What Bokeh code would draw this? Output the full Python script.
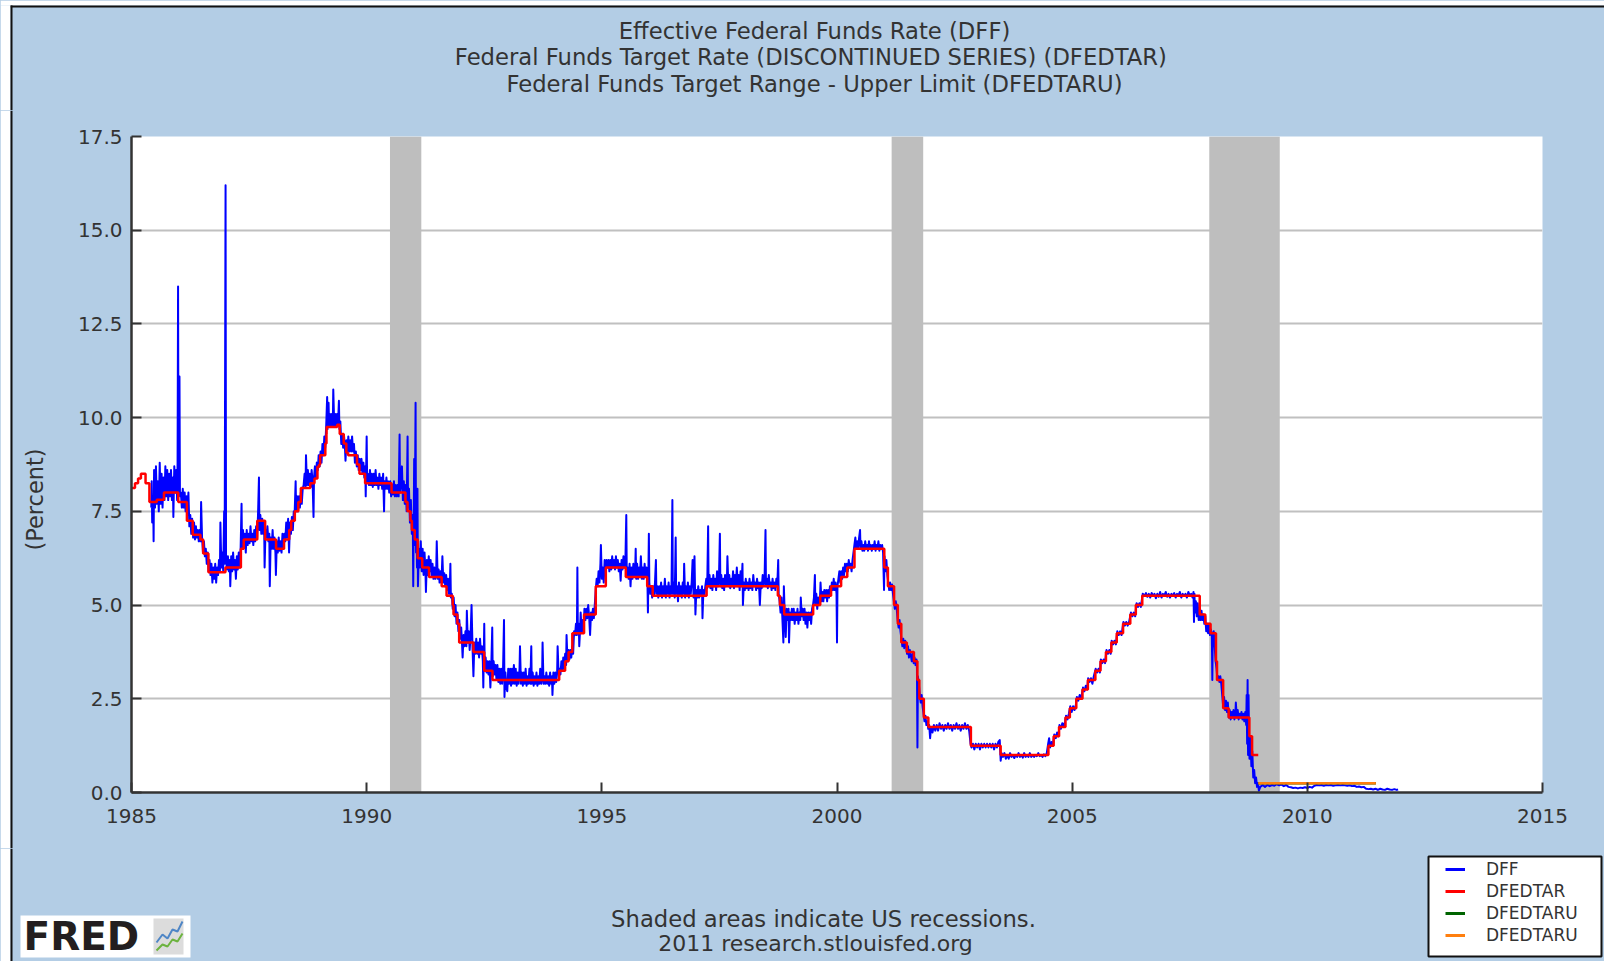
import datetime
import math
from bokeh.plotting import figure
from bokeh.layouts import column, row
from bokeh.models import (Range1d, FixedTicker, PrintfTickFormatter, Label, Legend, LegendItem)
from bokeh.embed import file_html
from bokeh.resources import INLINE

# ---------------- data ----------------
title_lines = [
    "Effective Federal Funds Rate (DFF)",
    "Federal Funds Target Rate  (DISCONTINUED SERIES) (DFEDTAR)",
    "Federal Funds Target Range - Upper Limit (DFEDTARU)",
]
footer_lines = ["Shaded areas indicate US recessions.", "2011 research.stlouisfed.org"]
y_axis_label = "(Percent)"
series_names = ["DFF", "DFEDTAR", "DFEDTARU", "DFEDTARU"]
series_colors = ["#0000FF", "#FF0000", "#006400", "#FF7F0E"]

x_ticks = [1985, 1990, 1995, 2000, 2005, 2010, 2015]
y_ticks = [0.0, 2.5, 5.0, 7.5, 10.0, 12.5, 15.0, 17.5]

recession_start = ["1990-07-01", "2001-03-01", "2007-12-01"]
recession_end = ["1991-03-01", "2001-11-01", "2009-06-01"]

dfedtar_dates = [
    "1984-12-24", "1985-01-28", "1985-02-21", "1985-03-15", "1985-04-20", "1985-05-20", "1985-07-16", "1985-09-10", "1985-12-30",
    "1986-03-07", "1986-04-21", "1986-06-20", "1986-07-11", "1986-08-21", "1986-12-31",
    "1987-04-30", "1987-05-22", "1987-09-04", "1987-11-04",
    "1988-01-28", "1988-03-30", "1988-05-09", "1988-05-25", "1988-06-22", "1988-07-19", "1988-08-08", "1988-10-20", "1988-11-22", "1988-12-15", "1988-12-29",
    "1989-01-05", "1989-02-14", "1989-02-23", "1989-02-24", "1989-05-17", "1989-06-06", "1989-07-07", "1989-07-27", "1989-08-10", "1989-10-18", "1989-11-06", "1989-12-20",
    "1990-07-13", "1990-10-29", "1990-11-14", "1990-12-07", "1990-12-18",
    "1991-01-09", "1991-02-01", "1991-03-08", "1991-04-30", "1991-08-06", "1991-09-13", "1991-10-31", "1991-11-06", "1991-12-06", "1991-12-20",
    "1992-04-09", "1992-07-02", "1992-09-04",
    "1994-02-04", "1994-03-22", "1994-04-18", "1994-05-17", "1994-08-16", "1994-11-15",
    "1995-02-01", "1995-07-06", "1995-12-19",
    "1996-01-31", "1997-03-25",
    "1998-09-29", "1998-10-15", "1998-11-17",
    "1999-06-30", "1999-08-24", "1999-11-16",
    "2000-02-02", "2000-03-21", "2000-05-16",
    "2001-01-03", "2001-01-31", "2001-03-20", "2001-04-18", "2001-05-15", "2001-06-27", "2001-08-21", "2001-09-17", "2001-10-02", "2001-11-06", "2001-12-11",
    "2002-11-06", "2003-06-25",
    "2004-06-30", "2004-08-10", "2004-09-21", "2004-11-10", "2004-12-14",
    "2005-02-02", "2005-03-22", "2005-05-03", "2005-06-30", "2005-08-09", "2005-09-20", "2005-11-01", "2005-12-13",
    "2006-01-31", "2006-03-28", "2006-05-10", "2006-06-29",
    "2007-09-18", "2007-10-31", "2007-12-11",
    "2008-01-22", "2008-01-30", "2008-03-18", "2008-04-30", "2008-10-08", "2008-10-29", "2008-12-16",
]
dfedtar_values = [
    8.125, 8.25, 8.375, 8.5, 8.25, 7.75, 7.8125, 8.0, 7.75,
    7.25, 6.875, 6.75, 6.375, 5.875, 6.0,
    6.5, 6.75, 7.25, 6.75,
    6.5, 6.75, 7.0, 7.25, 7.5, 7.75, 8.125, 8.25, 8.375, 8.6875, 8.75,
    9.0, 9.3125, 9.5625, 9.75, 9.8125, 9.5625, 9.3125, 9.0625, 9.0, 8.75, 8.5, 8.25,
    8.0, 7.75, 7.5, 7.25, 7.0,
    6.75, 6.25, 6.0, 5.75, 5.5, 5.25, 5.0, 4.75, 4.5, 4.0,
    3.75, 3.25, 3.0,
    3.25, 3.5, 3.75, 4.25, 4.75, 5.5,
    6.0, 5.75, 5.5,
    5.25, 5.5,
    5.25, 5.0, 4.75,
    5.0, 5.25, 5.5,
    5.75, 6.0, 6.5,
    6.0, 5.5, 5.0, 4.5, 4.0, 3.75, 3.5, 3.0, 2.5, 2.0, 1.75,
    1.25, 1.0,
    1.25, 1.5, 1.75, 2.0, 2.25,
    2.5, 2.75, 3.0, 3.25, 3.5, 3.75, 4.0, 4.25,
    4.5, 4.75, 5.0, 5.25,
    4.75, 4.5, 4.25,
    3.5, 3.0, 2.25, 2.0, 1.5, 1.0, 1.0,
]

dfedtaru_dates = ["2008-12-16", "2011-06-17"]
dfedtaru_values = [0.25, 0.25]

# DFF (year, percent)
dff_1985_1986 = [
    (1985.42, 7.6), (1985.43, 8.3), (1985.44, 7.2), (1985.46, 7.9), (1985.47, 6.7), (1985.48, 8.6), (1985.50, 7.6),
    (1985.52, 8.7), (1985.54, 7.7), (1985.56, 8.3), (1985.58, 7.5), (1985.60, 8.8), (1985.62, 7.7), (1985.64, 8.5),
    (1985.66, 7.6), (1985.68, 8.4), (1985.70, 7.8), (1985.72, 8.7), (1985.74, 7.9), (1985.76, 8.6), (1985.78, 7.8),
    (1985.80, 8.5), (1985.82, 7.9), (1985.84, 8.6), (1985.86, 7.8), (1985.88, 8.4), (1985.89, 7.35), (1985.91, 8.7),
    (1985.93, 8.0), (1985.95, 8.6), (1985.97, 7.8), (1985.98, 8.8), (1985.99, 13.5), (1986.00, 8.0), (1986.02, 11.1),
    (1986.03, 7.9), (1986.05, 8.0), (1986.07, 7.6), (1986.09, 8.1), (1986.11, 7.6), (1986.13, 8.0), (1986.15, 7.5),
    (1986.17, 7.9), (1986.19, 7.4), (1986.21, 8.0), (1986.23, 7.1), (1986.25, 7.4), (1986.27, 6.9), (1986.29, 7.3),
    (1986.31, 6.8), (1986.33, 7.2), (1986.35, 6.75), (1986.37, 7.1), (1986.39, 6.8), (1986.41, 7.0), (1986.43, 6.7),
    (1986.45, 7.0), (1986.47, 6.7), (1986.48, 7.75), (1986.50, 6.8), (1986.52, 6.4), (1986.54, 6.7), (1986.56, 6.3),
    (1986.58, 6.5), (1986.60, 6.1), (1986.62, 6.4), (1986.64, 5.9), (1986.66, 6.2), (1986.68, 5.8), (1986.70, 6.1),
    (1986.72, 5.6), (1986.74, 6.0), (1986.76, 5.7), (1986.78, 6.1), (1986.80, 5.6), (1986.82, 6.0), (1986.84, 5.8),
    (1986.86, 6.2), (1986.88, 5.9), (1986.89, 7.2), (1986.91, 6.0), (1986.93, 6.4), (1986.95, 5.9), (1986.97, 7.5),
    (1986.98, 6.1), (1987.00, 16.2), (1987.01, 6.2),
]
dff_1987_1988 = [
    (1987.03, 5.95), (1987.05, 6.3), (1987.07, 5.9), (1987.09, 6.2), (1987.10, 5.5), (1987.12, 6.3), (1987.14, 5.9),
    (1987.16, 6.4), (1987.18, 5.95), (1987.20, 6.2), (1987.22, 5.7), (1987.24, 6.3), (1987.26, 5.95), (1987.28, 6.4),
    (1987.30, 6.0), (1987.32, 6.5), (1987.34, 7.7), (1987.35, 6.5), (1987.37, 7.0), (1987.39, 6.6), (1987.41, 6.9),
    (1987.43, 6.4), (1987.45, 7.0), (1987.47, 6.6), (1987.49, 6.9), (1987.51, 6.65), (1987.53, 7.1), (1987.55, 6.7),
    (1987.57, 6.9), (1987.59, 6.6), (1987.61, 7.0), (1987.63, 6.7), (1987.65, 7.1), (1987.67, 6.8), (1987.69, 7.4),
    (1987.71, 8.4), (1987.72, 7.0), (1987.74, 7.4), (1987.76, 6.9), (1987.78, 7.3), (1987.80, 6.9), (1987.82, 7.2),
    (1987.83, 6.0), (1987.85, 7.0), (1987.87, 6.8), (1987.89, 7.1), (1987.91, 6.7), (1987.93, 6.9), (1987.94, 5.5),
    (1987.96, 6.8), (1987.98, 6.5), (1988.00, 7.0), (1988.02, 6.5), (1988.04, 6.8), (1988.06, 6.4), (1988.07, 5.8),
    (1988.09, 6.7), (1988.11, 6.4), (1988.13, 6.8), (1988.15, 6.45), (1988.17, 6.7), (1988.19, 6.4), (1988.21, 6.9),
    (1988.23, 6.5), (1988.25, 6.9), (1988.27, 6.7), (1988.29, 7.2), (1988.31, 6.8), (1988.33, 7.3), (1988.35, 6.4),
    (1988.37, 7.2), (1988.39, 6.9), (1988.41, 7.35), (1988.43, 7.0), (1988.45, 7.5), (1988.47, 7.5), (1988.49, 8.3),
    (1988.50, 7.5), (1988.52, 7.9), (1988.54, 7.5), (1988.56, 7.9), (1988.58, 7.6), (1988.60, 8.0), (1988.62, 7.7),
    (1988.64, 8.1), (1988.66, 8.2), (1988.68, 8.5), (1988.70, 8.15), (1988.71, 9.0), (1988.73, 8.2), (1988.75, 8.6),
    (1988.77, 8.2), (1988.79, 8.5), (1988.81, 8.15), (1988.83, 8.6), (1988.85, 8.3), (1988.87, 7.35), (1988.88, 8.4),
    (1988.90, 8.7), (1988.92, 8.4), (1988.94, 8.8), (1988.96, 8.6), (1988.98, 9.0), (1989.00, 8.7), (1989.02, 9.1),
]
dff_1989_1990 = [
    (1989.04, 8.8), (1989.06, 9.3), (1989.08, 9.0), (1989.10, 9.5), (1989.12, 9.2), (1989.14, 9.8), (1989.16, 10.55),
    (1989.17, 9.7), (1989.19, 10.4), (1989.20, 9.8), (1989.22, 10.1), (1989.24, 9.75), (1989.26, 10.1), (1989.28, 9.8),
    (1989.29, 10.75), (1989.31, 9.8), (1989.33, 10.1), (1989.35, 9.75), (1989.37, 10.1), (1989.39, 9.8), (1989.41, 10.45),
    (1989.42, 9.7), (1989.44, 9.9), (1989.46, 9.3), (1989.48, 9.55), (1989.50, 9.2), (1989.52, 9.5), (1989.54, 9.15),
    (1989.55, 8.85), (1989.57, 9.4), (1989.59, 9.1), (1989.61, 9.5), (1989.63, 9.1), (1989.65, 9.4), (1989.67, 9.1),
    (1989.69, 9.5), (1989.71, 9.1), (1989.73, 9.3), (1989.75, 8.8), (1989.77, 9.1), (1989.79, 8.7), (1989.81, 9.0),
    (1989.83, 8.6), (1989.85, 8.9), (1989.87, 8.6), (1989.89, 8.9), (1989.91, 8.5), (1989.93, 8.8), (1989.95, 8.4),
    (1989.97, 8.7), (1989.98, 7.9), (1990.00, 9.5), (1990.01, 8.3), (1990.03, 8.5), (1990.05, 8.2), (1990.07, 8.6),
    (1990.09, 8.2), (1990.11, 8.5), (1990.13, 8.15), (1990.15, 8.5), (1990.17, 8.2), (1990.19, 8.6), (1990.21, 8.2),
    (1990.23, 8.4), (1990.25, 8.1), (1990.27, 8.5), (1990.29, 8.2), (1990.31, 8.4), (1990.33, 8.1), (1990.35, 8.5),
    (1990.37, 7.5), (1990.38, 8.3), (1990.40, 8.1), (1990.42, 8.4), (1990.44, 8.1), (1990.46, 8.3), (1990.48, 8.0),
    (1990.50, 8.3), (1990.52, 7.9), (1990.54, 8.2), (1990.56, 7.95), (1990.58, 8.3), (1990.60, 7.9), (1990.62, 8.2),
    (1990.64, 7.9), (1990.66, 8.2), (1990.68, 7.9), (1990.70, 9.55), (1990.71, 8.0), (1990.73, 8.2), (1990.75, 8.7),
    (1990.77, 7.8), (1990.79, 8.3), (1990.81, 7.7), (1990.83, 8.2), (1990.85, 7.5), (1990.87, 9.5), (1990.88, 7.6),
    (1990.90, 8.1), (1990.92, 7.2), (1990.94, 7.8), (1990.96, 6.9), (1990.98, 7.4), (1990.99, 5.5),
]
dff_1991_1992 = [
    (1991.01, 8.9), (1991.02, 6.6), (1991.04, 10.4), (1991.05, 6.4), (1991.06, 7.0), (1991.07, 6.0), (1991.08, 8.1),
    (1991.09, 5.5), (1991.11, 6.5), (1991.13, 6.0), (1991.15, 6.7), (1991.17, 5.9), (1991.19, 6.5), (1991.21, 5.8),
    (1991.23, 6.4), (1991.25, 5.9), (1991.26, 5.35), (1991.28, 6.2), (1991.30, 5.8), (1991.32, 6.3), (1991.34, 5.9),
    (1991.36, 6.2), (1991.38, 5.8), (1991.40, 6.1), (1991.42, 5.7), (1991.44, 6.0), (1991.46, 5.7), (1991.48, 6.0),
    (1991.49, 6.7), (1991.51, 5.7), (1991.53, 5.95), (1991.55, 5.6), (1991.57, 5.9), (1991.59, 5.6), (1991.61, 6.3),
    (1991.63, 5.6), (1991.65, 5.85), (1991.67, 5.5), (1991.69, 5.8), (1991.71, 5.4), (1991.73, 5.7), (1991.75, 5.3),
    (1991.77, 5.6), (1991.78, 6.1), (1991.79, 5.2), (1991.81, 5.3), (1991.83, 4.9), (1991.85, 5.2), (1991.87, 4.7),
    (1991.89, 5.0), (1991.91, 4.5), (1991.93, 4.8), (1991.95, 4.3), (1991.97, 4.6), (1991.99, 4.1), (1992.01, 4.4),
    (1992.03, 3.9), (1992.04, 3.6), (1992.06, 4.2), (1992.08, 3.9), (1992.10, 4.3), (1992.12, 3.9), (1992.13, 4.85),
    (1992.15, 4.0), (1992.17, 4.3), (1992.19, 3.8), (1992.21, 4.2), (1992.23, 5.0), (1992.25, 3.9), (1992.27, 3.1),
    (1992.29, 4.0), (1992.31, 3.7), (1992.33, 4.1), (1992.35, 3.7), (1992.37, 4.0), (1992.39, 3.6), (1992.41, 4.1),
    (1992.43, 3.7), (1992.45, 3.9), (1992.47, 3.5), (1992.48, 2.8), (1992.50, 4.5), (1992.51, 3.3), (1992.53, 3.6),
    (1992.55, 3.2), (1992.57, 3.5), (1992.59, 3.15), (1992.61, 3.5), (1992.63, 2.8), (1992.65, 3.4), (1992.67, 4.4),
    (1992.68, 3.1), (1992.70, 3.5), (1992.72, 3.15), (1992.74, 3.4), (1992.76, 3.0), (1992.78, 3.4), (1992.80, 2.95),
    (1992.82, 3.3), (1992.84, 2.9), (1992.86, 3.3), (1992.88, 2.9), (1992.90, 3.3), (1992.92, 4.6), (1992.93, 2.55),
    (1992.95, 3.2), (1992.97, 2.8), (1992.99, 2.7), (1993.01, 3.3),
]
dff_1993_1994 = [
    (1993.03, 2.9), (1993.05, 3.3), (1993.07, 2.85), (1993.09, 3.3), (1993.11, 2.9), (1993.13, 3.4), (1993.15, 2.9),
    (1993.17, 3.3), (1993.19, 2.85), (1993.21, 3.2), (1993.23, 2.9), (1993.25, 3.3), (1993.26, 3.9), (1993.28, 2.9),
    (1993.30, 3.2), (1993.32, 2.85), (1993.34, 3.2), (1993.36, 2.9), (1993.38, 3.3), (1993.40, 2.85), (1993.42, 3.1),
    (1993.44, 2.9), (1993.46, 3.3), (1993.48, 2.9), (1993.50, 3.9), (1993.51, 2.9), (1993.53, 3.2), (1993.55, 2.85),
    (1993.57, 3.1), (1993.59, 2.9), (1993.61, 3.2), (1993.63, 2.85), (1993.65, 3.1), (1993.67, 2.9), (1993.69, 3.3),
    (1993.71, 2.9), (1993.73, 3.1), (1993.74, 4.0), (1993.76, 2.9), (1993.78, 3.1), (1993.80, 2.9), (1993.82, 3.2),
    (1993.84, 2.9), (1993.86, 3.1), (1993.88, 2.85), (1993.90, 3.2), (1993.92, 2.9), (1993.94, 3.1), (1993.95, 2.6),
    (1993.97, 3.2), (1993.99, 2.9), (1994.01, 3.2), (1994.03, 2.95), (1994.05, 3.2), (1994.06, 3.9), (1994.08, 3.2),
    (1994.10, 3.3), (1994.12, 3.15), (1994.14, 3.5), (1994.16, 3.25), (1994.18, 3.6), (1994.20, 3.3), (1994.22, 3.7),
    (1994.24, 3.4), (1994.25, 4.2), (1994.27, 3.5), (1994.29, 3.8), (1994.31, 3.55), (1994.33, 3.8), (1994.35, 3.6),
    (1994.37, 3.9), (1994.39, 3.7), (1994.41, 4.3), (1994.43, 4.2), (1994.45, 4.5), (1994.47, 4.2), (1994.48, 6.0),
    (1994.49, 4.3), (1994.51, 4.5), (1994.52, 3.9), (1994.54, 4.4), (1994.55, 4.8), (1994.57, 4.3), (1994.59, 4.6),
    (1994.61, 4.3), (1994.63, 4.9), (1994.65, 4.6), (1994.67, 4.9), (1994.69, 4.65), (1994.71, 5.0), (1994.73, 4.7),
    (1994.75, 4.2), (1994.77, 4.8), (1994.79, 4.6), (1994.81, 4.9), (1994.83, 4.65), (1994.85, 5.0), (1994.87, 5.4),
    (1994.89, 5.7), (1994.91, 5.5), (1994.93, 5.9), (1994.95, 5.6), (1994.97, 6.1), (1994.98, 6.6), (1995.00, 5.7),
]
dff_1995_1996 = [
    (1995.02, 6.0), (1995.04, 5.6), (1995.06, 6.2), (1995.08, 5.9), (1995.10, 6.2), (1995.12, 6.0), (1995.14, 6.2),
    (1995.16, 5.9), (1995.18, 6.2), (1995.20, 5.95), (1995.22, 6.3), (1995.24, 6.0), (1995.26, 6.2), (1995.28, 5.95),
    (1995.30, 6.3), (1995.32, 6.0), (1995.34, 6.2), (1995.36, 5.9), (1995.38, 6.1), (1995.40, 5.65), (1995.42, 6.2),
    (1995.44, 5.95), (1995.46, 6.3), (1995.48, 6.0), (1995.50, 6.1), (1995.52, 7.4), (1995.53, 5.8), (1995.55, 6.0),
    (1995.57, 5.7), (1995.59, 6.1), (1995.61, 5.5), (1995.63, 6.0), (1995.65, 5.7), (1995.67, 6.1), (1995.69, 5.75),
    (1995.71, 6.0), (1995.72, 6.5), (1995.73, 5.7), (1995.75, 6.1), (1995.77, 5.7), (1995.79, 6.0), (1995.81, 5.75),
    (1995.83, 6.3), (1995.85, 5.7), (1995.87, 6.0), (1995.89, 5.7), (1995.91, 6.1), (1995.93, 5.75), (1995.95, 6.0),
    (1995.97, 5.6), (1995.98, 4.8), (1996.00, 6.9), (1996.01, 5.6), (1996.03, 5.3), (1996.05, 5.5), (1996.07, 5.2),
    (1996.09, 5.5), (1996.11, 5.25), (1996.13, 5.6), (1996.15, 6.2), (1996.16, 5.3), (1996.18, 5.5), (1996.20, 5.2),
    (1996.22, 5.5), (1996.24, 5.25), (1996.26, 5.6), (1996.28, 5.2), (1996.30, 5.5), (1996.32, 5.25), (1996.34, 5.7),
    (1996.36, 5.2), (1996.38, 5.5), (1996.40, 5.3), (1996.42, 5.6), (1996.44, 5.2), (1996.46, 5.5), (1996.48, 5.3),
    (1996.50, 7.8), (1996.51, 5.3), (1996.53, 5.6), (1996.55, 5.2), (1996.57, 6.8), (1996.58, 5.3), (1996.60, 5.5),
    (1996.62, 5.1), (1996.64, 5.6), (1996.66, 5.25), (1996.68, 5.5), (1996.70, 5.2), (1996.72, 5.6), (1996.74, 5.3),
    (1996.75, 6.1), (1996.77, 5.2), (1996.79, 5.5), (1996.81, 5.25), (1996.83, 5.6), (1996.85, 5.2), (1996.87, 5.5),
    (1996.89, 5.3), (1996.91, 5.6), (1996.93, 6.2), (1996.95, 5.2), (1996.97, 6.3), (1996.99, 4.75),
]
dff_1997_1998 = [
    (1997.01, 5.4), (1997.03, 5.2), (1997.05, 5.5), (1997.07, 5.2), (1997.09, 5.4), (1997.11, 5.25), (1997.13, 5.5),
    (1997.14, 4.65), (1997.16, 5.4), (1997.18, 5.25), (1997.20, 5.5), (1997.22, 5.7), (1997.24, 5.45), (1997.26, 7.1),
    (1997.27, 5.5), (1997.29, 5.8), (1997.31, 5.45), (1997.33, 5.7), (1997.35, 5.4), (1997.37, 5.8), (1997.39, 5.5),
    (1997.41, 5.7), (1997.43, 5.4), (1997.45, 5.9), (1997.47, 5.5), (1997.49, 5.7), (1997.51, 6.9), (1997.52, 5.5),
    (1997.54, 5.8), (1997.56, 5.45), (1997.58, 5.7), (1997.60, 5.4), (1997.62, 5.8), (1997.64, 5.5), (1997.66, 5.7),
    (1997.67, 6.3), (1997.69, 5.5), (1997.71, 5.8), (1997.73, 5.45), (1997.75, 5.7), (1997.77, 5.5), (1997.79, 5.9),
    (1997.81, 5.45), (1997.83, 5.8), (1997.85, 5.5), (1997.87, 6.0), (1997.89, 5.5), (1997.91, 5.8), (1997.93, 5.4),
    (1997.95, 5.9), (1997.97, 5.5), (1997.99, 6.1), (1998.00, 5.0), (1998.02, 5.6), (1998.04, 5.4), (1998.06, 5.7),
    (1998.08, 5.45), (1998.10, 5.6), (1998.12, 5.4), (1998.14, 5.7), (1998.16, 5.45), (1998.18, 5.6), (1998.20, 5.4),
    (1998.22, 5.8), (1998.24, 5.5), (1998.26, 5.6), (1998.28, 5.4), (1998.30, 5.7), (1998.32, 5.45), (1998.34, 5.6),
    (1998.36, 5.0), (1998.38, 5.6), (1998.40, 5.45), (1998.42, 5.8), (1998.44, 5.5), (1998.46, 5.7), (1998.48, 7.0),
    (1998.49, 5.5), (1998.51, 5.7), (1998.53, 5.45), (1998.55, 5.8), (1998.57, 5.5), (1998.59, 5.6), (1998.61, 5.4),
    (1998.63, 5.7), (1998.65, 5.45), (1998.67, 5.6), (1998.69, 5.4), (1998.71, 5.7), (1998.73, 5.5), (1998.75, 6.2),
    (1998.76, 5.3), (1998.78, 5.1), (1998.80, 4.8), (1998.82, 5.2), (1998.84, 4.6), (1998.86, 4.0), (1998.87, 5.5),
    (1998.89, 4.7), (1998.91, 4.15), (1998.93, 4.9), (1998.95, 4.6), (1998.97, 4.9), (1998.98, 4.0),
]
dff_1999_2000 = [
    (1999.00, 4.8), (1999.02, 4.6), (1999.04, 4.9), (1999.06, 4.6), (1999.08, 4.9), (1999.10, 4.5), (1999.12, 4.8),
    (1999.14, 4.6), (1999.16, 4.9), (1999.18, 4.5), (1999.20, 4.8), (1999.22, 4.6), (1999.23, 5.2), (1999.25, 4.7),
    (1999.27, 4.9), (1999.29, 4.6), (1999.31, 4.9), (1999.33, 4.5), (1999.35, 4.8), (1999.37, 4.4), (1999.39, 4.8),
    (1999.41, 4.6), (1999.43, 4.8), (1999.45, 4.5), (1999.47, 4.9), (1999.49, 5.0), (1999.51, 5.2), (1999.53, 5.8),
    (1999.54, 5.0), (1999.56, 5.3), (1999.58, 4.9), (1999.60, 5.2), (1999.62, 5.0), (1999.64, 5.25), (1999.65, 5.6),
    (1999.67, 5.1), (1999.69, 5.35), (1999.71, 5.1), (1999.73, 5.4), (1999.75, 5.2), (1999.77, 5.4), (1999.79, 5.1),
    (1999.81, 5.4), (1999.83, 5.2), (1999.85, 5.5), (1999.87, 5.3), (1999.89, 5.6), (1999.91, 5.4), (1999.93, 5.7),
    (1999.95, 5.4), (1999.97, 5.6), (1999.99, 5.3), (2000.00, 4.0), (2000.01, 5.5), (2000.03, 5.7), (2000.05, 5.9),
    (2000.07, 5.6), (2000.09, 5.9), (2000.11, 5.7), (2000.13, 6.0), (2000.15, 5.8), (2000.17, 6.1), (2000.19, 5.9),
    (2000.21, 6.1), (2000.23, 5.9), (2000.25, 6.2), (2000.27, 6.0), (2000.29, 6.1), (2000.31, 5.9), (2000.33, 6.2),
    (2000.35, 6.4), (2000.37, 6.6), (2000.39, 6.8), (2000.41, 6.5), (2000.43, 6.7), (2000.45, 6.5), (2000.47, 6.8),
    (2000.49, 7.0), (2000.50, 6.5), (2000.52, 6.7), (2000.54, 6.45), (2000.56, 6.6), (2000.58, 6.45), (2000.60, 6.7),
    (2000.62, 6.5), (2000.64, 6.6), (2000.66, 6.45), (2000.68, 6.7), (2000.70, 6.5), (2000.72, 6.6), (2000.74, 6.45),
    (2000.76, 6.6), (2000.78, 6.5), (2000.80, 6.7), (2000.82, 6.45), (2000.84, 6.6), (2000.86, 6.5), (2000.88, 6.7),
    (2000.90, 6.45), (2000.92, 6.6), (2000.94, 6.5), (2000.96, 6.6), (2000.98, 6.4),
]
dff_2001_2003 = [
    (2001.00, 5.4), (2001.01, 6.3), (2001.03, 5.9), (2001.05, 6.2), (2001.07, 5.8), (2001.09, 5.6), (2001.11, 5.4),
    (2001.13, 5.6), (2001.15, 5.4), (2001.17, 5.55), (2001.19, 5.3), (2001.21, 5.1), (2001.23, 4.9), (2001.25, 5.1),
    (2001.27, 4.9), (2001.29, 4.6), (2001.31, 4.4), (2001.33, 4.6), (2001.35, 4.3), (2001.37, 4.1), (2001.39, 3.9),
    (2001.41, 4.1), (2001.43, 3.85), (2001.45, 4.05), (2001.47, 3.9), (2001.49, 3.7), (2001.51, 3.9), (2001.53, 3.6),
    (2001.55, 3.8), (2001.57, 3.65), (2001.59, 3.5), (2001.61, 3.7), (2001.63, 3.45), (2001.65, 3.6), (2001.67, 3.4),
    (2001.69, 3.55), (2001.70, 3.3), (2001.71, 1.2), (2001.72, 3.1), (2001.74, 2.9), (2001.76, 2.6), (2001.78, 2.4),
    (2001.80, 2.6), (2001.82, 2.3), (2001.84, 2.1), (2001.86, 1.9), (2001.88, 2.05), (2001.90, 1.8), (2001.92, 1.9),
    (2001.94, 1.7), (2001.96, 1.8), (2001.98, 1.45), (2002.00, 1.75), (2002.03, 1.6), (2002.06, 1.8), (2002.09, 1.65),
    (2002.12, 1.8), (2002.15, 1.65), (2002.18, 1.85), (2002.21, 1.7), (2002.24, 1.8), (2002.27, 1.65), (2002.30, 1.8),
    (2002.33, 1.7), (2002.36, 1.85), (2002.39, 1.7), (2002.42, 1.8), (2002.45, 1.65), (2002.48, 1.8), (2002.51, 1.7),
    (2002.54, 1.85), (2002.57, 1.7), (2002.60, 1.8), (2002.63, 1.65), (2002.66, 1.8), (2002.69, 1.7), (2002.72, 1.85),
    (2002.75, 1.7), (2002.78, 1.8), (2002.81, 1.65), (2002.84, 1.3), (2002.86, 1.2), (2002.89, 1.3), (2002.92, 1.15),
    (2002.95, 1.3), (2002.98, 1.2), (2003.01, 1.3), (2003.04, 1.15), (2003.07, 1.3), (2003.10, 1.2), (2003.13, 1.3),
    (2003.16, 1.2), (2003.19, 1.3), (2003.22, 1.2), (2003.25, 1.3), (2003.28, 1.2), (2003.31, 1.3), (2003.34, 1.15),
    (2003.37, 1.3), (2003.40, 1.2), (2003.43, 1.35), (2003.46, 1.4), (2003.48, 0.85), (2003.50, 1.05), (2003.53, 0.95),
    (2003.56, 1.05), (2003.59, 0.9), (2003.62, 1.0), (2003.65, 0.9), (2003.68, 1.05), (2003.71, 0.95), (2003.74, 1.0),
    (2003.77, 0.92), (2003.80, 1.0), (2003.83, 0.95), (2003.86, 1.05), (2003.89, 0.95), (2003.92, 1.0), (2003.95, 0.93),
    (2003.98, 1.05),
]
dff_2004_2006 = [
    (2004.01, 0.95), (2004.04, 1.0), (2004.07, 0.95), (2004.10, 1.05), (2004.13, 0.95), (2004.16, 1.0), (2004.19, 0.95),
    (2004.22, 1.0), (2004.25, 0.97), (2004.28, 1.05), (2004.31, 0.97), (2004.34, 1.0), (2004.37, 0.95), (2004.40, 1.02),
    (2004.43, 0.97), (2004.46, 1.05), (2004.49, 1.3), (2004.51, 1.45), (2004.53, 1.2), (2004.56, 1.35), (2004.59, 1.25),
    (2004.62, 1.55), (2004.65, 1.45), (2004.68, 1.6), (2004.71, 1.5), (2004.73, 1.8), (2004.76, 1.7), (2004.79, 1.85),
    (2004.82, 1.75), (2004.85, 1.9), (2004.87, 2.05), (2004.90, 1.95), (2004.93, 2.1), (2004.96, 2.3), (2004.99, 2.15),
    (2005.02, 2.3), (2005.05, 2.2), (2005.08, 2.35), (2005.10, 2.55), (2005.13, 2.45), (2005.16, 2.6), (2005.19, 2.5),
    (2005.23, 2.8), (2005.26, 2.7), (2005.29, 2.85), (2005.32, 2.75), (2005.34, 3.05), (2005.37, 2.95), (2005.40, 3.05),
    (2005.43, 2.9), (2005.46, 3.1), (2005.50, 3.3), (2005.53, 3.2), (2005.56, 3.3), (2005.59, 3.2), (2005.61, 3.55),
    (2005.64, 3.45), (2005.67, 3.55), (2005.70, 3.45), (2005.73, 3.8), (2005.76, 3.7), (2005.79, 3.8), (2005.82, 3.7),
    (2005.84, 4.05), (2005.87, 3.95), (2005.90, 4.05), (2005.93, 3.95), (2005.96, 4.3), (2005.99, 4.2), (2006.02, 4.3),
    (2006.05, 4.2), (2006.09, 4.55), (2006.12, 4.45), (2006.15, 4.55), (2006.18, 4.45), (2006.21, 4.55), (2006.25, 4.8),
    (2006.28, 4.7), (2006.31, 4.8), (2006.34, 4.7), (2006.37, 5.05), (2006.40, 4.95), (2006.43, 5.05), (2006.46, 4.95),
    (2006.50, 5.3), (2006.54, 5.25), (2006.57, 5.32), (2006.60, 5.22), (2006.63, 5.3), (2006.66, 5.2), (2006.69, 5.32),
    (2006.72, 5.25), (2006.75, 5.3), (2006.78, 5.18), (2006.81, 5.3), (2006.84, 5.22), (2006.87, 5.35), (2006.90, 5.2),
    (2006.93, 5.3), (2006.96, 5.25), (2006.99, 5.35),
]
dff_2007_2011 = [
    (2007.02, 5.22), (2007.05, 5.3), (2007.08, 5.2), (2007.11, 5.3), (2007.14, 5.25), (2007.17, 5.32), (2007.20, 5.2),
    (2007.23, 5.3), (2007.26, 5.25), (2007.29, 5.35), (2007.32, 5.2), (2007.35, 5.3), (2007.38, 5.25), (2007.41, 5.3),
    (2007.44, 5.2), (2007.47, 5.35), (2007.50, 5.25), (2007.53, 5.3), (2007.56, 5.2), (2007.58, 5.35), (2007.59, 4.55),
    (2007.60, 5.3), (2007.61, 4.8), (2007.63, 5.1), (2007.65, 4.7), (2007.67, 5.05), (2007.69, 4.6), (2007.71, 4.9),
    (2007.73, 4.6), (2007.75, 4.85), (2007.77, 4.6), (2007.79, 4.75), (2007.81, 4.5), (2007.83, 4.7), (2007.85, 4.3),
    (2007.87, 4.5), (2007.89, 4.25), (2007.91, 4.5), (2007.93, 4.2), (2007.95, 4.35), (2007.97, 4.2), (2007.98, 3.0),
    (2007.99, 4.2), (2008.01, 4.3), (2008.03, 3.9), (2008.05, 3.5), (2008.07, 3.3), (2008.09, 3.0), (2008.11, 3.1),
    (2008.13, 2.95), (2008.15, 3.1), (2008.17, 2.9), (2008.19, 2.6), (2008.21, 2.3), (2008.23, 2.55), (2008.25, 2.2),
    (2008.27, 2.45), (2008.29, 2.15), (2008.31, 2.4), (2008.33, 2.0), (2008.35, 2.2), (2008.37, 1.95), (2008.39, 2.15),
    (2008.41, 2.0), (2008.43, 2.2), (2008.45, 1.95), (2008.47, 2.1), (2008.48, 2.4), (2008.50, 2.0), (2008.52, 2.2),
    (2008.54, 1.95), (2008.56, 2.1), (2008.58, 2.0), (2008.60, 2.15), (2008.62, 1.95), (2008.64, 2.1), (2008.66, 1.9),
    (2008.68, 2.15), (2008.70, 1.8), (2008.71, 2.6), (2008.72, 1.3), (2008.73, 3.0), (2008.74, 1.0), (2008.75, 2.6),
    (2008.76, 1.5), (2008.77, 0.9), (2008.79, 1.5), (2008.81, 0.7), (2008.83, 1.1), (2008.85, 0.4), (2008.87, 0.6),
    (2008.89, 0.25), (2008.91, 0.4), (2008.93, 0.15), (2008.95, 0.25), (2008.97, 0.05), (2009.00, 0.15), (2009.05, 0.2),
    (2009.10, 0.15), (2009.15, 0.2), (2009.20, 0.17), (2009.25, 0.2), (2009.30, 0.18), (2009.35, 0.22), (2009.40, 0.19),
    (2009.45, 0.21), (2009.50, 0.17), (2009.55, 0.2), (2009.60, 0.15), (2009.65, 0.14), (2009.70, 0.12), (2009.75, 0.13),
    (2009.80, 0.11), (2009.85, 0.13), (2009.90, 0.12), (2009.95, 0.14), (2010.00, 0.12), (2010.05, 0.15), (2010.10, 0.13),
    (2010.15, 0.18), (2010.20, 0.2), (2010.25, 0.19), (2010.30, 0.2), (2010.35, 0.18), (2010.40, 0.2), (2010.45, 0.19),
    (2010.50, 0.2), (2010.55, 0.18), (2010.60, 0.19), (2010.65, 0.2), (2010.70, 0.19), (2010.75, 0.2), (2010.80, 0.19),
    (2010.85, 0.18), (2010.90, 0.19), (2010.95, 0.17), (2011.00, 0.18), (2011.05, 0.15), (2011.10, 0.16), (2011.15, 0.14),
    (2011.20, 0.15), (2011.25, 0.1), (2011.30, 0.09), (2011.35, 0.1), (2011.40, 0.08), (2011.45, 0.1), (2011.50, 0.07),
    (2011.55, 0.1), (2011.60, 0.08), (2011.65, 0.07), (2011.70, 0.1), (2011.75, 0.08), (2011.80, 0.07), (2011.85, 0.09),
    (2011.90, 0.07), (2011.93, 0.08),
]


def dec_year(s):
    d = datetime.date.fromisoformat(s)
    a = datetime.date(d.year, 1, 1)
    b = datetime.date(d.year + 1, 1, 1)
    return d.year + (d - a).days / (b - a).days


dff_parts = [dff_1985_1986, dff_1987_1988, dff_1989_1990, dff_1991_1992, dff_1993_1994,
             dff_1995_1996, dff_1997_1998, dff_1999_2000, dff_2001_2003, dff_2004_2006, dff_2007_2011]
dff_x = [t for part in dff_parts for t, v in part]
dff_y = [v for part in dff_parts for t, v in part]
tar_x = [dec_year(d) for d in dfedtar_dates]
taru_x = [dec_year(d) for d in dfedtaru_dates]
rec_l = [dec_year(d) for d in recession_start]
rec_r = [dec_year(d) for d in recession_end]

# ---------------- layout (page pixels) ----------------
BG = "#B3CDE5"
TXT = "#333333"
FONT = "DejaVu Sans"
PAGE_W, PAGE_H = 1604, 961
HEAD_H = 110           # header strip: page y 0..110
FOOT_Y = 848           # footer strip: page y 848..961
LEFT_W = 70            # left strip beside the plot: page x 0..70
MID_H = FOOT_Y - HEAD_H
MAIN_W = PAGE_W - LEFT_W
FOOT_H = PAGE_H - FOOT_Y
# plot frame in page px
PL, PR, PT, PB = 131, 1542, 136, 792


def panel(w, h):
    """A plain pixel-space figure used for the texts around the chart."""
    f = figure(width=w, height=h, output_backend="svg", toolbar_location=None, title=None,
               x_range=Range1d(0, w), y_range=Range1d(h, 0), x_axis_type=None, y_axis_type=None,
               min_border=0, min_border_left=0, min_border_right=0, min_border_top=0, min_border_bottom=0,
               background_fill_color=BG, border_fill_color=BG, outline_line_color=None,
               frame_align=False)
    f.xgrid.visible = False
    f.ygrid.visible = False
    return f


def left_edge(f, h, y0=0):
    f.quad(left=0, right=10, top=y0, bottom=h, fill_color="white", line_color=None)
    f.quad(left=10, right=12, top=y0, bottom=h, fill_color="#111111", line_color=None)


def text(f, x, y, s, size, align="center", color=TXT, **kw):
    f.add_layout(Label(x=x, y=y, text=s, text_font=FONT, text_font_size=size, text_color=color,
                       text_align=align, text_baseline="middle", **kw))


# header with the three title lines
head = panel(PAGE_W, HEAD_H)
head.quad(left=0, right=PAGE_W, top=0, bottom=5, fill_color="white", line_color=None)
head.quad(left=10, right=PAGE_W, top=5, bottom=7, fill_color="#111111", line_color=None)
left_edge(head, HEAD_H, 5)
for s, py in zip(title_lines, [30.5, 56.5, 83]):
    text(head, 814, py, s, "22.7px")

# left strip with the axis title
side = panel(LEFT_W, MID_H)
left_edge(side, MID_H)
text(side, 34, 499 - HEAD_H, y_axis_label, "22.5px", angle=math.pi / 2)

# main chart
p = figure(width=MAIN_W, height=MID_H, output_backend="svg", toolbar_location=None, title=None,
           x_range=Range1d(x_ticks[0], x_ticks[-1]), y_range=Range1d(y_ticks[0], y_ticks[-1]),
           min_border_left=PL - LEFT_W, min_border_right=PAGE_W - PR,
           min_border_top=PT - HEAD_H, min_border_bottom=FOOT_Y - PB,
           background_fill_color="white", border_fill_color=BG, outline_line_color=None,
           frame_align=False)
for ax in (p.xaxis[0], p.yaxis[0]):
    ax.axis_line_color = "#333333"
    ax.axis_line_width = 2.5
    ax.major_tick_line_color = "#333333"
    ax.major_tick_line_width = 2
    ax.major_tick_in = 10
    ax.major_tick_out = 0
    ax.minor_tick_line_color = None
    ax.major_label_text_font = FONT
    ax.major_label_text_font_size = "20px"
    ax.major_label_text_color = TXT
p.xaxis.ticker = FixedTicker(ticks=x_ticks)
p.yaxis.ticker = FixedTicker(ticks=y_ticks)
p.xaxis.formatter = PrintfTickFormatter(format="%d")
p.yaxis.formatter = PrintfTickFormatter(format="%.1f")
p.xaxis.major_label_standoff = 16
p.yaxis.major_label_standoff = 9
p.xgrid.grid_line_color = None
p.ygrid.grid_line_color = "#C0C0C0"
p.ygrid.grid_line_width = 2

p.quad(left=rec_l, right=rec_r, bottom=y_ticks[0], top=y_ticks[-1], fill_color="#BEBEBE", line_color=None)
p.line(dff_x, dff_y, line_color=series_colors[0], line_width=2, line_join="round")
p.step(tar_x, dfedtar_values, mode="after", line_color=series_colors[1], line_width=2.5)
p.line(taru_x, dfedtaru_values, line_color=series_colors[2], line_width=2.5)
p.line(taru_x, dfedtaru_values, line_color=series_colors[3], line_width=2.5)

# footer: notes, logo, legend
foot = panel(PAGE_W, FOOT_H)
left_edge(foot, FOOT_H)
for s, px, py, fs in zip(footer_lines, [823, 815], [918, 943], ["22.7px", "22px"]):
    text(foot, px, py - FOOT_Y, s, fs)

# FRED logo
foot.quad(left=20, right=190, top=915 - FOOT_Y, bottom=957 - FOOT_Y, fill_color="white", line_color=None)
foot.quad(left=153, right=183, top=918 - FOOT_Y, bottom=954 - FOOT_Y, fill_color="#DCDCDC", line_color=None)
text(foot, 23, 936 - FOOT_Y, "FRED", "39px", align="left", color="#231F20", text_font_style="bold")
icon_x = [156, 162, 167, 172, 177, 182]
icon_blue_y = [942, 934, 938, 929, 931, 921]
icon_green_y = [950, 944, 946, 939, 941, 933]
foot.line(icon_x, [y - FOOT_Y for y in icon_blue_y], line_color="#4F86C6", line_width=2)
foot.line(icon_x, [y - FOOT_Y for y in icon_green_y], line_color="#6DB33F", line_width=2)

# legend box and entries (swatch renderers sit outside the visible range)
foot.quad(left=1428, right=1601, top=856 - FOOT_Y, bottom=956 - FOOT_Y,
          fill_color="white", line_color="#111111", line_width=2)
swatches = [foot.line([-50, -40], [-50, -50], line_color=c, line_width=3) for c in series_colors]
legend = Legend(items=[LegendItem(label=n, renderers=[r]) for n, r in zip(series_names, swatches)],
                location=(1445, FOOT_H - (945 - FOOT_Y)), orientation="vertical",
                padding=0, margin=0, spacing=2, glyph_width=20, glyph_height=20, label_height=20,
                label_standoff=21, label_text_font=FONT, label_text_font_size="17px",
                label_text_color=TXT, border_line_color=None, background_fill_alpha=0)
foot.add_layout(legend)

layout = column(head, row(side, p, spacing=0, styles={"background-color": BG}), foot,
                spacing=0, styles={"background-color": BG})
open("out.html", "w").write(file_html(layout, INLINE))
